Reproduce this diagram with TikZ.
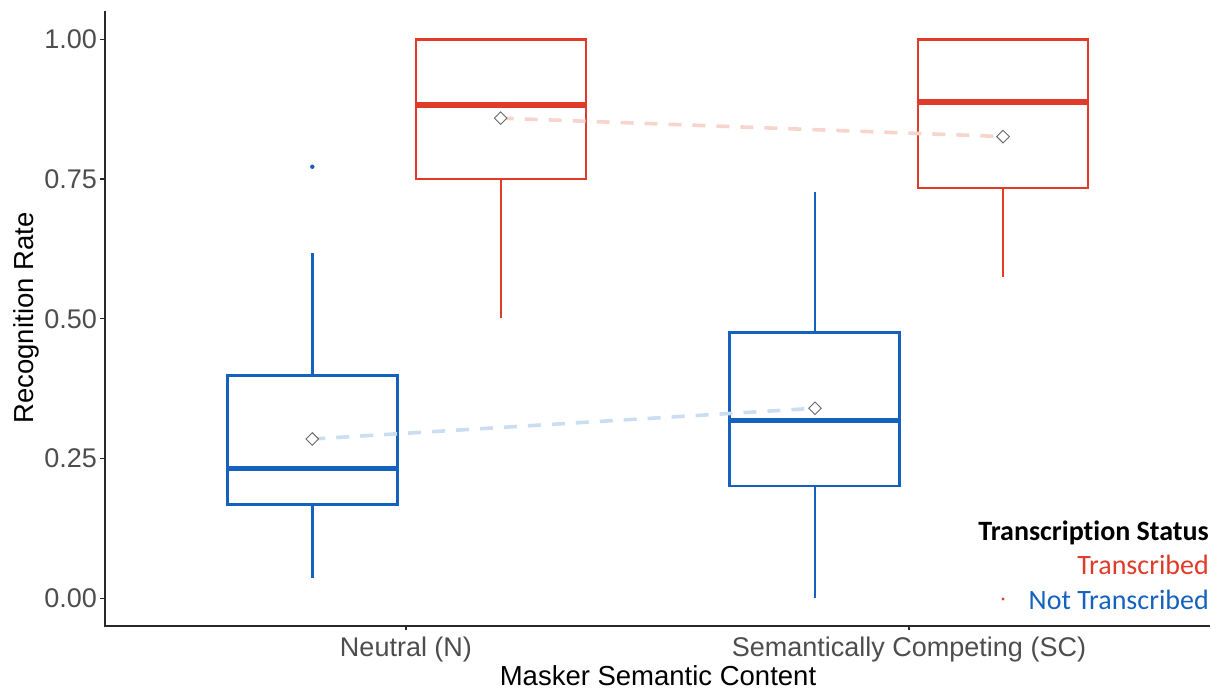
\documentclass[tikz,border=0pt]{standalone}
\usepackage{fontspec}
\setmainfont{Liberation Sans}
\newfontfamily\legendfont[Ligatures=NoCommon]{Carlito}
\usetikzlibrary{shapes.geometric}

\pgfdeclarelayer{boxlayer}
\pgfdeclarelayer{linklayer}
\pgfsetlayers{boxlayer,linklayer,main}

\definecolor{tred}{RGB}{224,58,40}
\definecolor{tblue}{RGB}{20,98,190}
\definecolor{palered}{RGB}{247,212,206}
\definecolor{paleblue}{RGB}{202,221,241}
\definecolor{ticktext}{RGB}{77,77,77}
\definecolor{axisgray}{RGB}{40,40,40}
\definecolor{markgray}{RGB}{105,105,105}

% #1 colour, #2 centre x, #3 lower whisker, #4 Q1, #5 median, #6 Q3, #7 upper whisker
\newcommand\drawbox[7]{%
  \begin{pgfonlayer}{boxlayer}
    \draw[whisker=#1] (#2,#6) -- (#2,#7);
    \draw[whisker=#1] (#2,#4) -- (#2,#3);
    \draw[boxedge=#1] ({#2-85},#4) rectangle ({#2+85},#6);
    \draw[medianbar=#1] ({#2-85},#5) -- ({#2+85},#5);
  \end{pgfonlayer}}

\begin{document}
\begin{tikzpicture}[x=1pt,y=-1pt,
  axisline/.style={draw=axisgray,line width=1.6pt},
  tickmark/.style={draw=axisgray,line width=1.2pt},
  ticklabel/.style={text=ticktext,font=\fontsize{27}{32}\selectfont,inner sep=0pt},
  axistitle/.style={text=black,font=\fontsize{27.5}{33}\selectfont,inner sep=0pt},
  boxedge/.style={draw=#1,line width=2.8pt,line join=miter},
  medianbar/.style={draw=#1,line width=5.6pt},
  whisker/.style={draw=#1,line width=2.6pt},
  meanmark/.style={diamond,draw=markgray,fill=white,line width=0.9pt,
    minimum width=13pt,minimum height=13pt,inner sep=0pt},
  meanlink/.style={draw=#1,line width=3.6pt,dash pattern=on 13pt off 11pt},
  legtitle/.style={font=\legendfont\bfseries\fontsize{28}{33}\selectfont,
    anchor=base east,inner sep=0pt},
  legitem/.style={font=\legendfont\fontsize{28}{33}\selectfont,
    anchor=base east,inner sep=0pt,text=#1},
]
\useasboundingbox (0,0) rectangle (1220,689);

% axes
\draw[axisline] (105,11) -- (105,626) -- (1210,626);
\foreach \tx in {406,909} \draw[tickmark] (\tx,626) -- (\tx,630);

% category labels and axis titles
\node[ticklabel,anchor=base] (catN) at (406,656) {Neutral (N)};
\node[ticklabel,anchor=base] (catSC) at (909,656) {Semantically Competing (SC)};
\node[axistitle,anchor=base] (xtitle) at (658,685) {Masker Semantic Content};
\node[axistitle,anchor=base,rotate=90] (ytitle) at (33,318) {Recognition Rate};

% data region: x in pixels, y in recognition rate
\begin{scope}[shift={(0,598.3)},y=559pt]
  \foreach \v/\lab [count=\i] in {0/0.00,0.25/0.25,0.5/0.50,0.75/0.75,1/1.00}{
    \draw[tickmark] (100,\v) -- (105,\v);
    \node[ticklabel,anchor=east] (ytick\i) at (97,\v) {\lab};
  }

  % boxes: Not Transcribed (blue) and Transcribed (red)
  \drawbox{tblue}{312.3}{0.036}{0.168}{0.2325}{0.398}{0.618}
  \drawbox{tred}{501}{0.502}{0.75}{0.882}{1.0}{1.0}
  \drawbox{tblue}{814.8}{0.0}{0.201}{0.318}{0.476}{0.726}
  \drawbox{tred}{1003}{0.574}{0.734}{0.888}{1.0}{1.0}

  % outlier
  \node[circle,fill=tblue,inner sep=0pt,minimum size=4.4pt] (outNNT) at (312.3,0.772) {};

  % group means
  \node[meanmark] (mNNT) at (312.3,0.285) {};
  \node[meanmark] (mNT) at (500.6,0.859) {};
  \node[meanmark] (mSCNT) at (815,0.340) {};
  \node[meanmark] (mSCT) at (1003,0.826) {};

  \begin{pgfonlayer}{linklayer}
    \draw[meanlink=paleblue] (mNNT.center) -- (mSCNT.center);
    \draw[meanlink=palered] (mNT.center) -- (mSCT.center);
  \end{pgfonlayer}
\end{scope}

% legend
\node[legtitle] (legtitle) at (1209,540) {Transcription Status};
\node[legitem=tred] (legT) at (1209,574) {Transcribed};
\node[legitem=tblue] (legNT) at (1209,609) {Not Transcribed};
\node[circle,fill=tred,inner sep=0pt,minimum size=3.2pt] (legdot) at (1003,599) {};
\end{tikzpicture}
\end{document}
